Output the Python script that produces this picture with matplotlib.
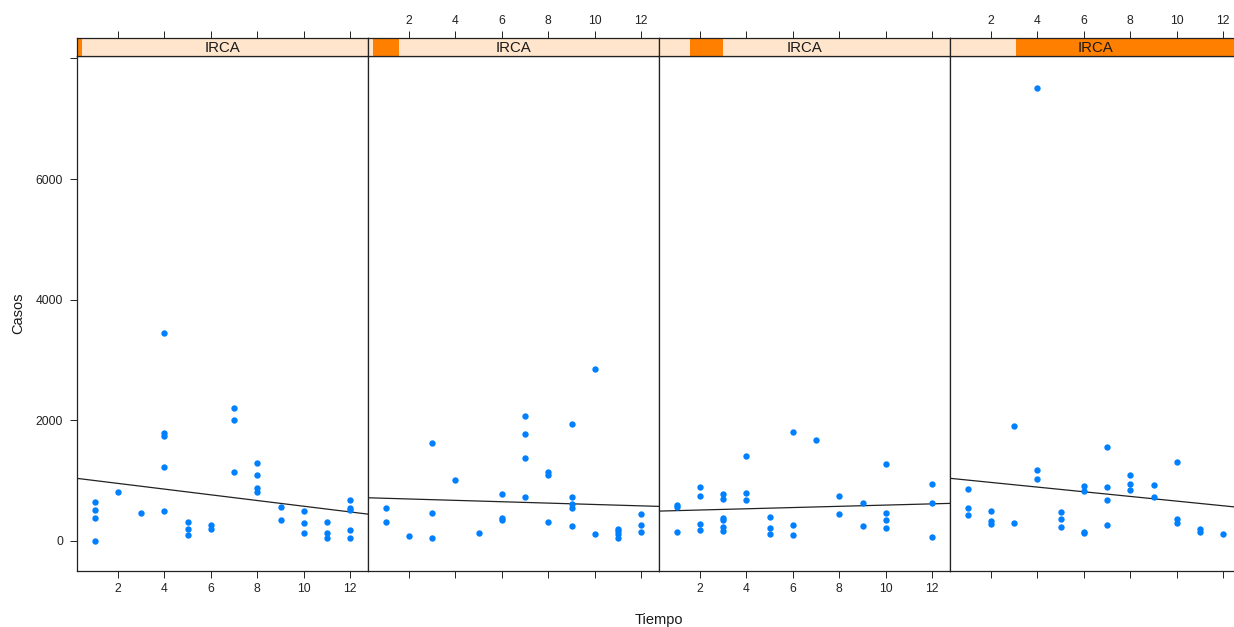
import numpy as np
import matplotlib.pyplot as plt
from matplotlib.patches import Rectangle

plt.rcParams['font.family'] = ['Liberation Sans', 'DejaVu Sans']

# datos por panel (Tiempo en meses, Casos)
tiempo1 = [1, 1, 1, 1, 2, 3, 4, 4, 4, 4, 4, 5, 5, 5, 6, 6, 7, 7, 7, 8, 8, 8, 8,
           9, 9, 10, 10, 10, 11, 11, 11, 12, 12, 12, 12, 12]
casos1 = [642, 514, 372, 0, 808, 465, 3447, 1788, 1732, 1228, 498, 310, 199, 90,
          266, 199, 2197, 1998, 1140, 1295, 1090, 880, 808, 559, 343, 498, 294,
          123, 310, 123, 45, 670, 537, 514, 172, 45]

tiempo2 = [1, 1, 2, 3, 3, 3, 4, 5, 6, 6, 6, 7, 7, 7, 7, 8, 8, 8, 9, 9, 9, 9, 9,
           10, 10, 11, 11, 11, 11, 12, 12, 12]
casos2 = [543, 310, 78, 1622, 465, 45, 1013, 128, 780, 372, 343, 2075, 1776,
          1373, 730, 1135, 1096, 310, 1937, 730, 614, 543, 249, 2855, 111, 199,
          166, 106, 45, 448, 266, 139]

tiempo3 = [1, 1, 1, 2, 2, 2, 2, 3, 3, 3, 3, 3, 3, 4, 4, 4, 5, 5, 5, 6, 6, 6, 7,
           8, 8, 9, 9, 10, 10, 10, 10, 12, 12, 12]
casos3 = [598, 564, 139, 891, 747, 272, 183, 770, 692, 382, 343, 232, 166, 1406,
          797, 680, 398, 216, 106, 1809, 266, 95, 1671, 736, 437, 625, 249, 1267,
          470, 343, 216, 935, 625, 62]

tiempo4 = [1, 1, 1, 2, 2, 2, 3, 3, 4, 4, 4, 5, 5, 5, 6, 6, 6, 6, 7, 7, 7, 7, 8,
           8, 8, 9, 9, 10, 10, 10, 11, 11, 12]
casos4 = [858, 548, 421, 498, 332, 282, 1904, 299, 7514, 1173, 1029, 471, 360,
          232, 908, 825, 139, 123, 1560, 891, 670, 266, 1096, 941, 841, 924, 730,
          1311, 360, 294, 189, 139, 111]

# recta ajustada de cada panel (intercepto, pendiente)
intercepto = [1047, 717, 491, 1046]
pendiente = [-47.3, -11.4, 10.2, -38.7]

# rango del shingle IRCA que cubre cada panel (fraccion de la tira)
niveles = [(0.0, 0.017), (0.016, 0.108), (0.107, 0.219), (0.227, 1.0)]
etiqueta_tira = "IRCA"

paneles = [(tiempo1, casos1), (tiempo2, casos2), (tiempo3, casos3), (tiempo4, casos4)]

W, H = 1234, 627
fig = plt.figure(figsize=(W / 100, H / 100), dpi=100)

x_izq = [77, 368, 659, 950]
ancho = 291
arriba, abajo, alto_tira = 56, 571, 18
xlim = (0.23, 12.77)
ylim = (-500, 8040)
col_borde = "#222222"

for i, (tx, cy) in enumerate(paneles):
    x0 = x_izq[i]
    ax = fig.add_axes([x0 / W, (H - abajo) / H, ancho / W, (abajo - arriba) / H])
    st = fig.add_axes([x0 / W, (H - arriba) / H, ancho / W, alto_tira / H], sharex=ax)

    ax.scatter(tx, cy, s=21, color="#0080FF", marker="o", linewidths=0, zorder=3)
    xs = np.array(xlim)
    ax.plot(xs, intercepto[i] + pendiente[i] * xs, color=col_borde, lw=0.9)

    ax.set_xlim(xlim)
    ax.set_ylim(ylim)
    for s in ax.spines.values():
        s.set_color(col_borde)
        s.set_linewidth(0.9)

    ax.set_xticks([2, 4, 6, 8, 10, 12])
    ax.tick_params(axis="both", direction="out", length=5, width=0.7,
                   labelsize=8.7, colors=col_borde, pad=4)
    ax.tick_params(axis="x", bottom=True, labelbottom=(i % 2 == 0),
                   top=False, labeltop=False)
    if i == 0:
        ax.set_yticks([0, 2000, 4000, 6000, 8000])
        ax.set_yticklabels(["0", "2000", "4000", "6000", ""])
        ax.tick_params(axis="y", left=True, labelleft=True, pad=5)
    else:
        ax.tick_params(axis="y", left=False, labelleft=False)

    # tira
    st.set_ylim(0, 1)
    st.add_patch(Rectangle((0, 0), 1, 1, transform=st.transAxes,
                           facecolor="#FFE5CC", edgecolor="none", zorder=0))
    n0, n1 = niveles[i]
    st.add_patch(Rectangle((n0, 0), n1 - n0, 1, transform=st.transAxes,
                           facecolor="#FF7F00", edgecolor="none", zorder=1))
    st.text(0.5, 0.45, etiqueta_tira, transform=st.transAxes, ha="center",
            va="center", fontsize=10.8, color="#1a1a1a", zorder=2)
    for s in st.spines.values():
        s.set_color(col_borde)
        s.set_linewidth(0.9)
    st.set_yticks([])
    st.tick_params(axis="x", bottom=False, labelbottom=False, top=True,
                   labeltop=(i % 2 == 1), direction="out", length=5, width=0.7,
                   labelsize=8.7, colors=col_borde, pad=3)

fig.text(659 / W, 1 - 620 / H, "Tiempo", ha="center", va="center",
         fontsize=10.5, color="#1a1a1a")
fig.text(18 / W, 1 - 313 / H, "Casos", ha="center", va="center",
         rotation=90, fontsize=10.5, color="#1a1a1a")

fig.savefig("out.png", dpi=100, facecolor="white")
